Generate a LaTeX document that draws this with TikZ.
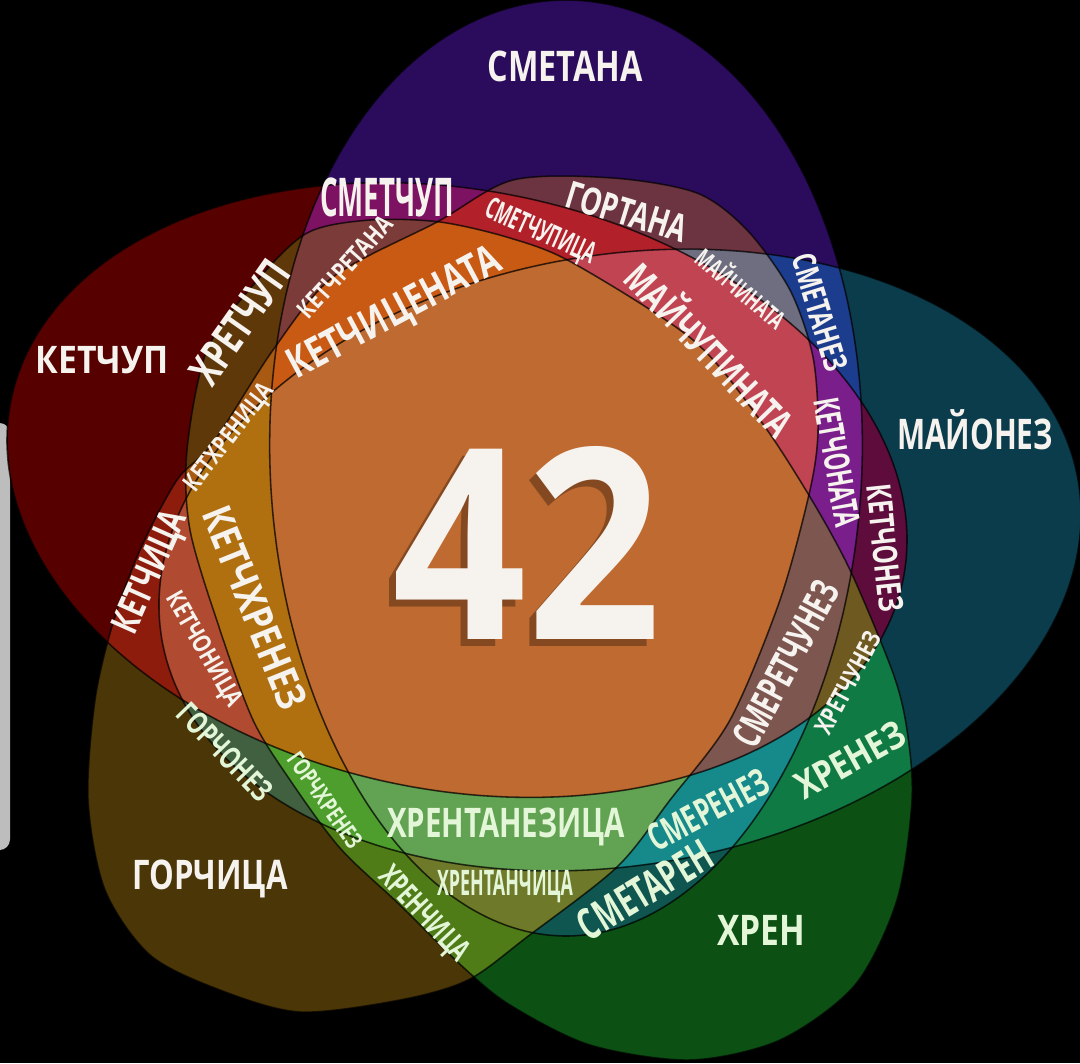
\documentclass[tikz,border=0pt]{standalone}
\usepackage{fontspec}
\usepackage{graphicx}
\setmainfont{Open Sans}
\newdimen\pxunit \pxunit=0.01cm
% cap height in px, length in px, text
\newcommand\lbl[3]{\pgfmathsetmacro\fsz{#1*0.4}\resizebox{#2\pxunit}{\height}{\fontsize{\fsz}{\fsz}\selectfont #3}}
\definecolor{smetana}{HTML}{2B0C5C}
\definecolor{ketchup}{HTML}{560000}
\definecolor{mayonez}{HTML}{0B3C4C}
\definecolor{gorchica}{HTML}{4A3606}
\definecolor{hren}{HTML}{0C5014}
\definecolor{smetchup}{HTML}{7D1262}
\definecolor{smetanez}{HTML}{1C3D8E}
\definecolor{gortana}{HTML}{6C3440}
\definecolor{smetaren}{HTML}{0F5550}
\definecolor{ketchonez}{HTML}{5E0C3C}
\definecolor{ketchica}{HTML}{8E1C0C}
\definecolor{hretchup}{HTML}{5F380A}
\definecolor{gorchonez}{HTML}{41603F}
\definecolor{hrenez}{HTML}{107A45}
\definecolor{hrenchica}{HTML}{507C18}
\definecolor{ketchonata}{HTML}{7A1E8C}
\definecolor{smetchupica}{HTML}{B2202A}
\definecolor{ketchretana}{HTML}{7B3B38}
\definecolor{maychinata}{HTML}{6E6E80}
\definecolor{smerenez}{HTML}{168A8A}
\definecolor{hrentanchica}{HTML}{6E7A2A}
\definecolor{ketchonica}{HTML}{B04A30}
\definecolor{hretchunez}{HTML}{6E5A20}
\definecolor{kethrenica}{HTML}{A85A12}
\definecolor{gorchhrenez}{HTML}{4E9E2E}
\definecolor{ketchicenata}{HTML}{C95A14}
\definecolor{maychupinata}{HTML}{C04452}
\definecolor{smeretchunez}{HTML}{7E5650}
\definecolor{hrentanezica}{HTML}{62A253}
\definecolor{ketchhrenez}{HTML}{B0700F}
\definecolor{vse}{HTML}{BE6A30}
\definecolor{labwhite}{HTML}{F6F2EE}
\definecolor{labgreen}{HTML}{E4F6D8}
\definecolor{barcol}{HTML}{BDBDBD}
% egg: centre x, centre y, angle of far end, half length, half width, egg factor
\newcommand\eggpath[6]{plot
	({#1+#4*cos(\t)*cos(#3)+#5*sin(\t)*(1+#6*cos(\t))*sin(#3)},
	 {#2-#4*cos(\t)*sin(#3)+#5*sin(\t)*(1+#6*cos(\t))*cos(#3)})}
\newcommand\pathS{\eggpath{566}{468}{90}{468}{296}{0.05}}
\newcommand\pathK{\eggpath{457}{490}{168.7}{455}{300}{0}}
\newcommand\pathM{\eggpath{620}{560}{9.9}{465}{305}{0}}
\newcommand\pathG{plot coordinates {(513,180) (613,178) (697,193) (747,230) (790,290) (813,357) (818,430) (810,490) (780,600) (730,720) (670,800) (617,867) (527,937) (468,980) (400,1000) (300,1012) (220,990) (150,955) (105,890) (88,800) (95,700) (113,623) (140,550) (177,480) (213,443) (273,350) (333,277) (437,222)}}
\newcommand\pathX{plot coordinates {(307,233) (370,220) (440,222) (510,238) (573,263) (693,340) (760,420) (810,497) (850,570) (893,673) (907,730) (912,800) (897,900) (855,985) (780,1040) (690,1060) (590,1045) (510,1005) (463,967) (400,905) (340,848) (290,780) (253,720) (220,630) (190,530) (187,450) (207,350) (255,283)}}
% all sets run clockwise, so a counterclockwise frame around one cuts it out
\newcommand\inout[2]{\ifnum#1=1 \clip #2; \else \clip (-60,-60) -- (-60,1130) -- (1140,1130) -- (1140,-60) -- cycle #2; \fi}
% in/out for S K M G X, then colour
\newcommand\region[6]{%
	\begin{scope}
		\inout{#1}{\pathS}
		\inout{#2}{\pathK}
		\inout{#3}{\pathM}
		\inout{#4}{\pathG}
		\inout{#5}{\pathX}
		\fill[#6] (-60,-60) rectangle (1140,1130);
	\end{scope}}
\tikzset{%
	edge/.style = {draw=black, draw opacity=0.7, line width=0.45pt},
	lab/.style  = {inner sep=0pt, text=labwhite, font=\bfseries},
	labg/.style = {lab, text=labgreen},
	num/.style  = {inner sep=0pt, font=\bfseries},
}
\begin{document}
\begin{tikzpicture}[x=0.01cm,y=-0.01cm,smooth cycle,domain=0:356,samples=90,variable=\t]
	\useasboundingbox (0,0) rectangle (1080,1063);
	\clip (0,0) rectangle (1080,1063);
	\fill[black] (0,0) rectangle (1080,1063);
	\fill[barcol, rounded corners=3] (-10,423) rectangle (10,850);
	% one set
	\region{1}{0}{0}{0}{0}{smetana}
	\region{0}{1}{0}{0}{0}{ketchup}
	\region{0}{0}{1}{0}{0}{mayonez}
	\region{0}{0}{0}{1}{0}{gorchica}
	\region{0}{0}{0}{0}{1}{hren}
	% two sets
	\region{1}{1}{0}{0}{0}{smetchup}
	\region{1}{0}{1}{0}{0}{smetanez}
	\region{1}{0}{0}{1}{0}{gortana}
	\region{1}{0}{0}{0}{1}{smetaren}
	\region{0}{1}{1}{0}{0}{ketchonez}
	\region{0}{1}{0}{1}{0}{ketchica}
	\region{0}{1}{0}{0}{1}{hretchup}
	\region{0}{0}{1}{1}{0}{gorchonez}
	\region{0}{0}{1}{0}{1}{hrenez}
	\region{0}{0}{0}{1}{1}{hrenchica}
	% three sets
	\region{1}{1}{1}{0}{0}{ketchonata}
	\region{1}{1}{0}{1}{0}{smetchupica}
	\region{1}{1}{0}{0}{1}{ketchretana}
	\region{1}{0}{1}{1}{0}{maychinata}
	\region{1}{0}{1}{0}{1}{smerenez}
	\region{1}{0}{0}{1}{1}{hrentanchica}
	\region{0}{1}{1}{1}{0}{ketchonica}
	\region{0}{1}{1}{0}{1}{hretchunez}
	\region{0}{1}{0}{1}{1}{kethrenica}
	\region{0}{0}{1}{1}{1}{gorchhrenez}
	% four and five sets
	\region{1}{1}{0}{1}{1}{ketchicenata}
	\region{1}{1}{1}{1}{0}{maychupinata}
	\region{1}{1}{1}{0}{1}{smeretchunez}
	\region{1}{0}{1}{1}{1}{hrentanezica}
	\region{0}{1}{1}{1}{1}{ketchhrenez}
	\region{1}{1}{1}{1}{1}{vse}
	% outlines
	\draw[edge] \pathS;
	\draw[edge] \pathK;
	\draw[edge] \pathM;
	\draw[edge] \pathG;
	\draw[edge] \pathX;
	% labels
	\node[lab] (smetanaL) at (565,66) {\lbl{30}{155}{СМЕТАНА}};
	\node[lab] (ketchupL) at (102,360) {\lbl{27}{133}{КЕТЧУП}};
	\node[lab] (mayonezL) at (975,430) {\lbl{30}{156}{МАЙОНЕЗ}};
	\node[lab] (gorchicaL) at (210,879) {\lbl{29}{155}{ГОРЧИЦА}};
	\node[labg] (hrenL) at (761,930) {\lbl{30}{88}{ХРЕН}};
	\node[lab] (smetchupL) at (387,197) {\lbl{38}{134}{СМЕТЧУП}};
	\node[lab, rotate=-17] (gortanaL) at (627,212) {\lbl{27}{125}{ГОРТАНА}};
	\node[lab, rotate=-24] (smetchupicaL) at (540,233) {\lbl{21}{118}{СМЕТЧУПИЦА}};
	\node[lab, rotate=-40] (maychinataL) at (742,287) {\lbl{18}{108}{МАЙЧИНАТА}};
	\node[lab, rotate=-73] (smetanezL) at (820,312) {\lbl{23}{122}{СМЕТАНЕЗ}};
	\node[lab, rotate=-46] (maychupinataL) at (712,348) {\lbl{28}{222}{МАЙЧУПИНАТА}};
	\node[lab, rotate=-80] (ketchonataL) at (837,462) {\lbl{25}{130}{КЕТЧОНАТА}};
	\node[lab, rotate=-84] (ketchonezL) at (885,548) {\lbl{24}{128}{КЕТЧОНЕЗ}};
	\node[lab, rotate=62] (smeretchunezL) at (786,664) {\lbl{28}{182}{СМЕРЕТЧУНЕЗ}};
	\node[lab, rotate=62] (hretchunezL) at (848,683) {\lbl{18}{112}{ХРЕТЧУНЕЗ}};
	\node[labg, rotate=29] (hrenezL) at (850,760) {\lbl{27}{120}{ХРЕНЕЗ}};
	\node[labg, rotate=28] (smerenezL) at (708,810) {\lbl{27}{132}{СМЕРЕНЕЗ}};
	\node[labg, rotate=31] (smetarenL) at (645,890) {\lbl{31}{150}{СМЕТАРЕН}};
	\node[labg] (hrentanezicaL) at (506,827) {\lbl{29}{238}{ХРЕНТАНЕЗИЦА}};
	\node[labg] (hrentanchicaL) at (505,887) {\lbl{25}{136}{ХРЕНТАНЧИЦА}};
	\node[labg, rotate=-47] (hrenchicaL) at (423,915) {\lbl{22}{118}{ХРЕНЧИЦА}};
	\node[labg, rotate=-55] (gorchhrenezL) at (325,800) {\lbl{17}{112}{ГОРЧХРЕНЕЗ}};
	\node[labg, rotate=-46] (gorchonezL) at (225,752) {\lbl{22}{122}{ГОРЧОНЕЗ}};
	\node[lab, rotate=-60] (ketchonicaL) at (203,650) {\lbl{18}{128}{КЕТЧОНИЦА}};
	\node[lab, rotate=66] (ketchicaL) at (152,573) {\lbl{27}{130}{КЕТЧИЦА}};
	\node[lab, rotate=-68] (ketchhrenezL) at (255,608) {\lbl{29}{215}{КЕТЧХРЕНЕЗ}};
	\node[lab, rotate=52] (kethrenicaL) at (230,438) {\lbl{18}{130}{КЕТХРЕНИЦА}};
	\node[lab, rotate=55] (hretchupL) at (240,322) {\lbl{31}{140}{ХРЕТЧУП}};
	\node[lab, rotate=48] (ketchretanaL) at (345,267) {\lbl{18}{128}{КЕТЧРЕТАНА}};
	\node[lab, rotate=28] (ketchicenataL) at (395,315) {\lbl{30}{235}{КЕТЧИЦЕНАТА}};
	% the answer, with its shadow
	\node[num, text=black, opacity=0.3] (shadow) at (520,550) {\resizebox{268\pxunit}{193\pxunit}{42}};
	\node[num, text=labwhite] (answer) at (527,543) {\resizebox{268\pxunit}{193\pxunit}{42}};
\end{tikzpicture}
\end{document}
